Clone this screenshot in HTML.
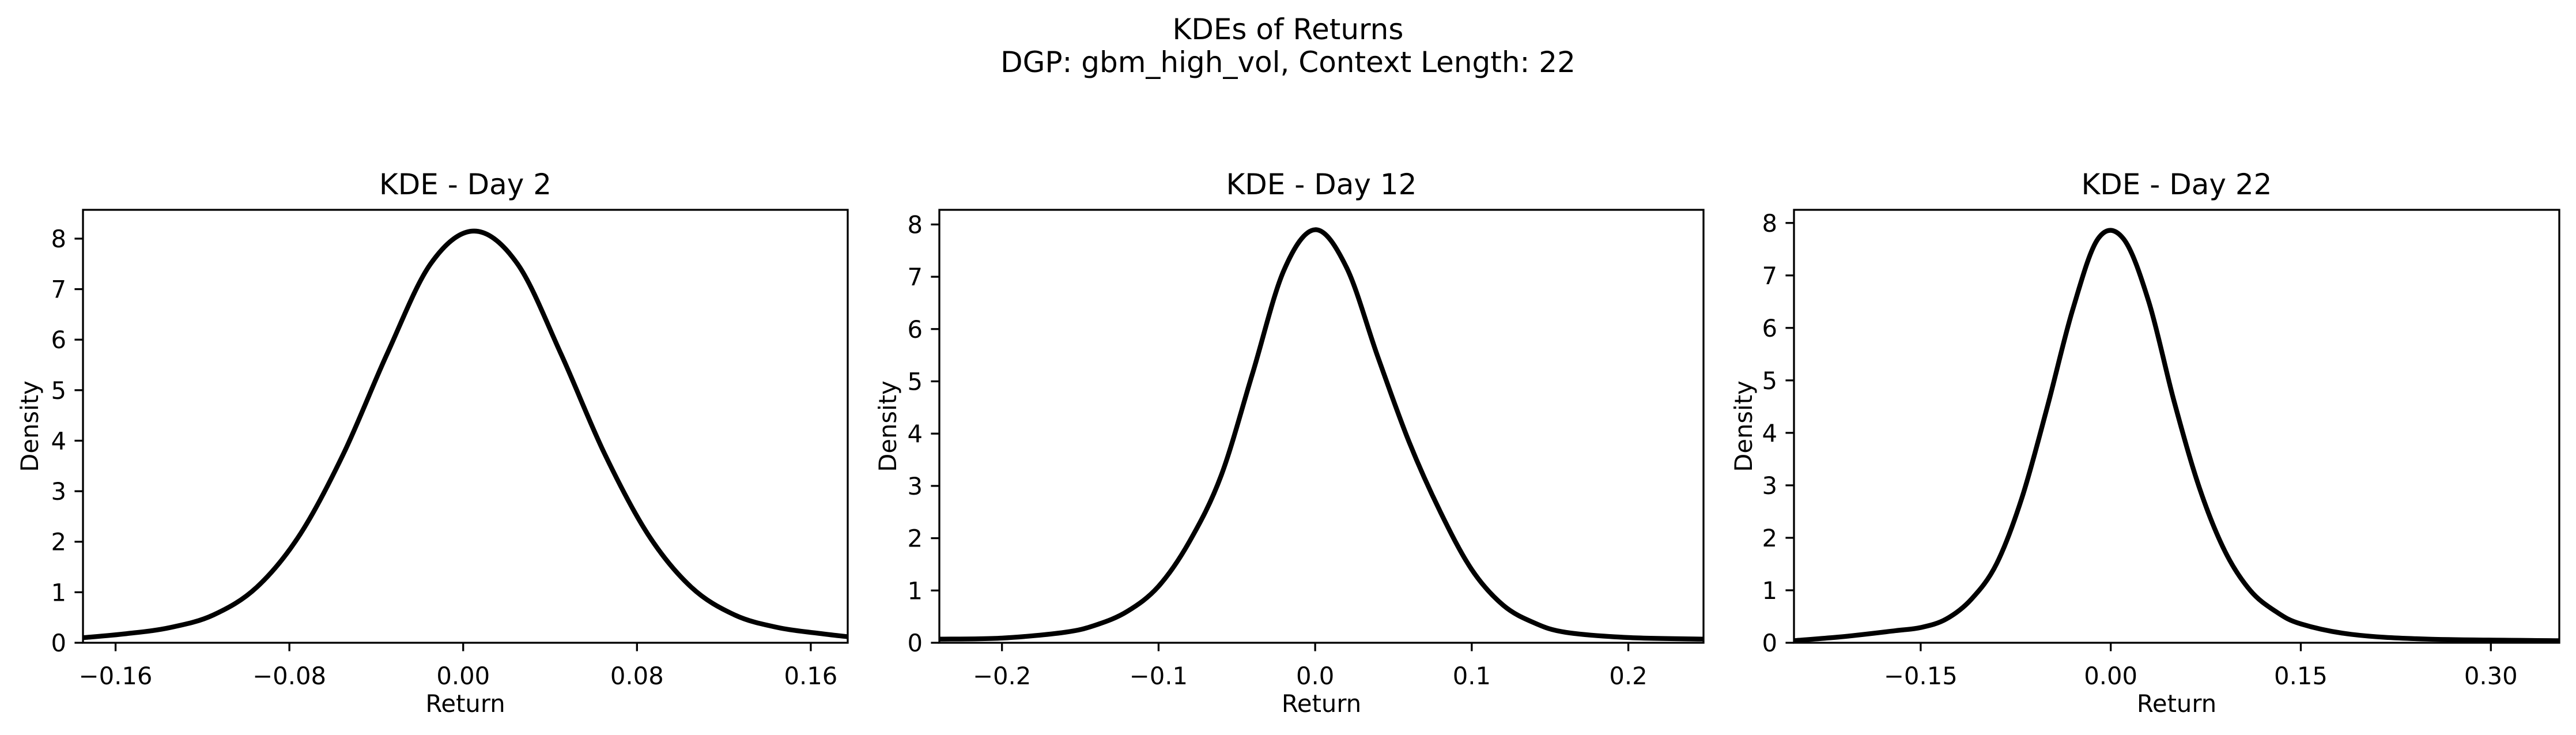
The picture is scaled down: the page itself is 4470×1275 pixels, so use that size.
<!DOCTYPE html>
<html><head><meta charset="utf-8"><style>
body{margin:0;background:#fff;}
svg{display:block;font-family:"DejaVu Sans","Liberation Sans",sans-serif;}
</style></head><body>
<svg id="fig" width="4470" height="1275" viewBox="0 0 4470 1275" xmlns="http://www.w3.org/2000/svg">
<rect width="4470" height="1275" fill="#fff"/>
<text x="2235" y="68" font-size="50" text-anchor="middle">KDEs of Returns</text>
<text x="2235" y="125" font-size="50" text-anchor="middle">DGP: gbm_high_vol, Context Length: 22</text>
</svg>
<script>
// Panel 1 - Day 2
const p1X = [-0.175,-0.155,-0.135,-0.115,-0.095,-0.075,-0.055,-0.035,-0.015,0.005,0.025,0.045,0.065,0.085,0.105,0.125,0.145,0.165,0.177];
const p1Y = [0.1,0.18,0.3,0.55,1.1,2.15,3.75,5.72,7.5,8.15,7.5,5.72,3.75,2.15,1.1,0.55,0.3,0.18,0.12];
const p1XTicks = [-0.16,-0.08,0.0,0.08,0.16];
const p1XLabels = ["\u22120.16","\u22120.08","0.00","0.08","0.16"];
// Panel 2 - Day 12
const p2X = [-0.24,-0.2,-0.16,-0.14,-0.12,-0.10,-0.08,-0.06,-0.04,-0.02,0.0,0.02,0.04,0.06,0.08,0.10,0.12,0.14,0.16,0.2,0.248];
const p2Y = [0.07,0.09,0.2,0.34,0.6,1.08,1.95,3.2,5.15,7.12,7.9,7.18,5.47,3.84,2.5,1.4,0.72,0.38,0.2,0.1,0.07];
const p2XTicks = [-0.2,-0.1,0.0,0.1,0.2];
const p2XLabels = ["\u22120.2","\u22120.1","0.0","0.1","0.2"];
// Panel 3 - Day 22
const p3X = [-0.25,-0.21,-0.17,-0.15,-0.13,-0.11,-0.09,-0.07,-0.05,-0.03,-0.01,0.01,0.03,0.05,0.07,0.09,0.11,0.13,0.15,0.19,0.25,0.354];
const p3Y = [0.04,0.12,0.23,0.29,0.45,0.83,1.51,2.77,4.5,6.35,7.7,7.7,6.5,4.6,2.95,1.75,1.0,0.6,0.36,0.16,0.07,0.04];
const p3XTicks = [-0.15,0.0,0.15,0.30];
const p3XLabels = ["\u22120.15","0.00","0.15","0.30"];
const yTicks = [0,1,2,3,4,5,6,7,8];
const titles = ["KDE - Day 2","KDE - Day 12","KDE - Day 22"];

const NS="http://www.w3.org/2000/svg";
const svg=document.getElementById('fig');
function mk(tag,attrs){const e=document.createElementNS(NS,tag);for(const k in attrs)e.setAttribute(k,attrs[k]);svg.appendChild(e);return e;}

const panels=[
 {l:144,r:1471,xmin:-0.175,xmax:0.177,ymax:8.57,xs:p1X,ys:p1Y,xt:p1XTicks,xl:p1XLabels,yl:51},
 {l:1630,r:2956,xmin:-0.240,xmax:0.248,ymax:8.28,xs:p2X,ys:p2Y,xt:p2XTicks,xl:p2XLabels,yl:1540},
 {l:3113,r:4441,xmin:-0.250,xmax:0.354,ymax:8.25,xs:p3X,ys:p3Y,xt:p3XTicks,xl:p3XLabels,yl:3025}
];
const axTop=364,axBot=1115;
panels.forEach((p,i)=>{
  const sx=v=>p.l+(v-p.xmin)/(p.xmax-p.xmin)*(p.r-p.l);
  const sy=v=>axBot-v/p.ymax*(axBot-axTop);
  const cp=mk('clipPath',{id:'clip'+i});
  const cr=document.createElementNS(NS,'rect');
  cr.setAttribute('x',p.l);cr.setAttribute('y',axTop);cr.setAttribute('width',p.r-p.l);cr.setAttribute('height',axBot-axTop);
  cp.appendChild(cr);
  const pts=p.xs.map((x,j)=>[sx(x),sy(p.ys[j])]);
  let d='M'+pts[0][0]+','+pts[0][1];
  for(let j=0;j<pts.length-1;j++){
    const p0=pts[Math.max(0,j-1)],p1=pts[j],p2=pts[j+1],p3=pts[Math.min(pts.length-1,j+2)];
    const c1=[p1[0]+(p2[0]-p0[0])/6,p1[1]+(p2[1]-p0[1])/6];
    const c2=[p2[0]-(p3[0]-p1[0])/6,p2[1]-(p3[1]-p1[1])/6];
    d+=' C'+c1[0]+','+c1[1]+' '+c2[0]+','+c2[1]+' '+p2[0]+','+p2[1];
  }
  const path=mk('path',{d:d,fill:'none',stroke:'#000','stroke-width':8.3,'stroke-linejoin':'round','clip-path':'url(#clip'+i+')'});
  
  
  const fr=mk('rect',{x:p.l,y:axTop,width:p.r-p.l,height:axBot-axTop,fill:'none',stroke:'#000','stroke-width':3.3});
  
  
  yTicks.forEach(v=>{
    const y=sy(v);
    mk('line',{x1:p.l,x2:p.l-14.6,y1:y,y2:y,stroke:'#000','stroke-width':3.3});
    const t=mk('text',{x:p.l-29,y:y+15,'font-size':41.7,'text-anchor':'end'});
    t.textContent=String(v);
    
    
  });
  p.xt.forEach((v,j)=>{
    const x=sx(v);
    mk('line',{x1:x,x2:x,y1:axBot,y2:axBot+14.6,stroke:'#000','stroke-width':3.3});
    const t=mk('text',{x:x,y:axBot+72,'font-size':41.7,'text-anchor':'middle'});
    t.textContent=p.xl[j];
    
    
  });
  const tt=mk('text',{x:(p.l+p.r)/2,y:337,'font-size':50,'text-anchor':'middle'});
  tt.textContent=titles[i];
  
  
  const xl=mk('text',{x:(p.l+p.r)/2,y:1235,'font-size':41.7,'text-anchor':'middle'});
  xl.textContent='Return';
  
  
  const cy=(axTop+axBot)/2;
  const yl=mk('text',{x:p.yl+15,y:cy,'font-size':41.7,'text-anchor':'middle',transform:'rotate(-90 '+(p.yl+15)+' '+cy+')'});
  yl.textContent='Density';
  
  
});
</script>
</body></html>
